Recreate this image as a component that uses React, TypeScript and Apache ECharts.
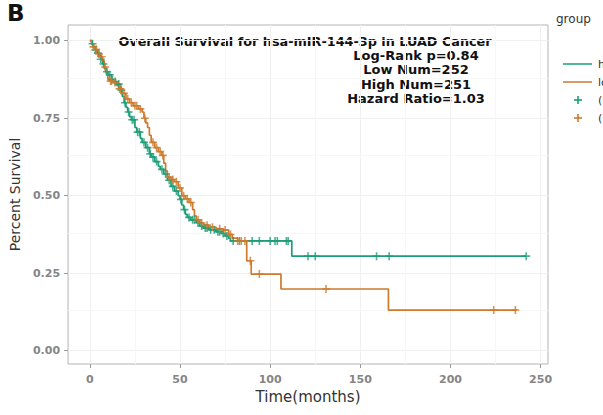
import React, { useEffect, useRef } from "react";
import * as echarts from "echarts";

// Kaplan-Meier step points [time (months), survival]
const highCurve: [number, number][] = [
  [0, 1], [1, 0.99], [2, 0.98], [3, 0.97], [4, 0.96], [5, 0.95], [6, 0.94], [7, 0.925],
  [8, 0.91], [9, 0.9], [10, 0.89], [12, 0.875], [13, 0.868], [15, 0.86], [17, 0.84],
  [18, 0.82], [19, 0.8], [20, 0.785], [21, 0.77], [22, 0.755], [23, 0.745], [25, 0.72],
  [26, 0.705], [28, 0.685], [29, 0.672], [31, 0.655], [33, 0.635], [34, 0.625], [36, 0.61],
  [38, 0.595], [39, 0.585], [41, 0.57], [43, 0.55], [45, 0.53], [47, 0.515], [49, 0.5],
  [50, 0.488], [51, 0.47], [52, 0.455], [53, 0.44], [54, 0.43], [56, 0.422], [59, 0.413],
  [61, 0.402], [63, 0.396], [66, 0.39], [70, 0.384], [73, 0.378], [75, 0.37], [77, 0.362],
  [78, 0.354], [112, 0.305], [242, 0.305],
];
const lowCurve: [number, number][] = [
  [0, 1], [1, 0.99], [2, 0.98], [3, 0.972], [4, 0.965], [5, 0.957], [6, 0.948], [7, 0.935],
  [8, 0.915], [9, 0.895], [10, 0.875], [11, 0.87], [13, 0.865], [15, 0.855], [16, 0.845],
  [18, 0.83], [20, 0.812], [22, 0.8], [24, 0.79], [27, 0.78], [29, 0.77], [30, 0.75],
  [31, 0.735], [32, 0.72], [33, 0.695], [34, 0.672], [36, 0.655], [38, 0.642], [40, 0.63],
  [41, 0.605], [42, 0.58], [43, 0.56], [45, 0.552], [47, 0.545], [49, 0.525], [51, 0.5],
  [53, 0.49], [55, 0.478], [57, 0.455], [58, 0.435], [59, 0.422], [61, 0.412], [63, 0.405],
  [66, 0.398], [70, 0.393], [74, 0.389], [77, 0.375], [79, 0.363], [82, 0.354], [87, 0.29],
  [89.5, 0.247], [106, 0.199], [165.6, 0.131], [237, 0.131],
];
const highCensorTimes: number[] = [
  1.5, 3, 4.5, 6, 7.5, 9.5, 11, 12.5, 14, 16, 17.5, 19.5, 21.5, 23.5, 24.5, 26.5, 27.5, 30,
  32, 33.5, 35, 37, 40, 42, 44, 46, 48, 50.5, 52.5, 55, 57, 58, 60, 62, 64, 65, 67, 69, 71,
  72, 74, 76, 79.5, 83, 90, 94, 100, 102.7, 104, 109, 110, 121, 125, 159, 166, 242,
];
const lowCensorTimes: number[] = [
  2, 3.5, 5, 6.5, 8.5, 11.5, 12, 14, 16.5, 17, 19, 21, 23, 25, 26, 28, 30.5, 35, 37, 39,
  40.5, 44, 46, 48, 50, 52, 54, 56, 60, 62, 65, 68, 72, 75, 78, 82, 84, 86, 89, 94, 131,
  224, 236,
];
const xTicks = [0, 50, 100, 150, 200, 250];
const yTicks = [0, 0.25, 0.5, 0.75, 1];
const xMinor = [25, 75, 125, 175, 225];
const yMinor = [0.125, 0.375, 0.625, 0.875];
const groupNames = ["high", "low", "(high)", "(low)"];
const titleText = "Overall Survival for hsa-mIR-144-3p in LUAD Cancer";
const statLines = ["Log-Rank p=0.84", "Low Num=252", "High Num=251", "Hazard Ratio=1.03"];

const TEAL = "#1B9E77";
const ORANGE = "#CD7A2E";
const PLUS = "path://M4,0H6V4H10V6H6V10H4V6H0V4H4Z";
const FONT = '"DejaVu Sans", sans-serif';

function survivalAt(curve: [number, number][], t: number) {
  let s = curve[0][1];
  for (const [ti, si] of curve) {
    if (ti <= t) s = si;
    else break;
  }
  return s;
}

export default function App() {
  const ref = useRef<HTMLDivElement>(null);
  useEffect(() => {
    document.body.style.margin = "0";
    const chart = echarts.init(ref.current!, undefined, { renderer: "svg" });
    const plus = (x: number, y: number, color: string) => ({
      type: "group",
      children: [
        { type: "line", shape: { x1: x - 4, y1: y, x2: x + 4, y2: y }, style: { stroke: color, lineWidth: 1.6 } },
        { type: "line", shape: { x1: x, y1: y - 4, x2: x, y2: y + 4 }, style: { stroke: color, lineWidth: 1.6 } },
      ],
    });
    const option: any = {
      animation: false,
      backgroundColor: "#fff",
      grid: {
        left: 63, right: 55, top: 25, bottom: 51,
        show: true, borderColor: "#b5b5b5", borderWidth: 1, backgroundColor: "#fff",
      },
      xAxis: {
        type: "value", min: -12.1, max: 254.1,
        axisLine: { show: false, onZero: false },
        axisTick: { show: true, customValues: xTicks, length: 4, lineStyle: { color: "#9a9a9a" } },
        axisLabel: {
          customValues: xTicks, color: "#858585", fontSize: 11, fontWeight: "bold",
          fontFamily: FONT, margin: 10,
        },
        splitLine: { show: true, lineStyle: { color: "#f0f0f0", width: 1 } },
        name: "Time(months)", nameLocation: "middle", nameGap: 24,
        nameTextStyle: { fontSize: 15, color: "#333", fontFamily: FONT },
      },
      yAxis: {
        type: "value", min: -0.043, max: 1.0506,
        axisLine: { show: false, onZero: false },
        axisTick: { show: true, customValues: yTicks, length: 4, lineStyle: { color: "#9a9a9a" } },
        axisLabel: {
          customValues: yTicks, color: "#858585", fontSize: 11, fontWeight: "bold",
          fontFamily: FONT, margin: 8, formatter: (v: number) => v.toFixed(2),
        },
        splitLine: { show: true, lineStyle: { color: "#f0f0f0", width: 1 } },
        name: "Percent Survival", nameLocation: "middle", nameGap: 35,
        nameTextStyle: { fontSize: 14, color: "#333", fontFamily: FONT },
      },
      series: [
        {
          name: "high", type: "line", step: "end", data: highCurve, showSymbol: false,
          lineStyle: { color: TEAL, width: 1.7 }, itemStyle: { color: TEAL }, silent: true, z: 3,
          markLine: {
            silent: true, symbol: "none", z: 1, label: { show: false },
            lineStyle: { color: "#f7f7f7", width: 1, type: "solid" },
            data: [...xMinor.map((v) => ({ xAxis: v })), ...yMinor.map((v) => ({ yAxis: v }))],
          },
        },
        {
          name: "low", type: "line", step: "end", data: lowCurve, showSymbol: false,
          lineStyle: { color: ORANGE, width: 1.7 }, itemStyle: { color: ORANGE }, silent: true, z: 3,
        },
        {
          name: "(high)", type: "scatter", symbol: PLUS, symbolSize: 8, silent: true, z: 4,
          itemStyle: { color: TEAL },
          data: highCensorTimes.map((t) => [t, survivalAt(highCurve, t)]),
        },
        {
          name: "(low)", type: "scatter", symbol: PLUS, symbolSize: 8, silent: true, z: 4,
          itemStyle: { color: ORANGE },
          data: lowCensorTimes.map((t) => [t, survivalAt(lowCurve, t)]),
        },
      ],
      graphic: [
        { type: "text", x: 7, y: 1, style: { text: "B", font: `bold 23px ${FONT}`, fill: "#111" } },
        {
          type: "text", x: 305, y: 41,
          style: { text: titleText, font: `bold 12.8px ${FONT}`, fill: "#111", textAlign: "center", textVerticalAlign: "middle" },
        },
        ...statLines.map((s, i) => ({
          type: "text", x: 416, y: 55.5 + i * 14.3,
          style: { text: s, font: `bold 13px ${FONT}`, fill: "#111", textAlign: "center", textVerticalAlign: "middle" },
        })),
        {
          type: "text", x: 556, y: 19,
          style: { text: "group", font: `12px ${FONT}`, fill: "#333", textVerticalAlign: "middle" },
        },
        { type: "line", shape: { x1: 563, y1: 64, x2: 592, y2: 64 }, style: { stroke: TEAL, lineWidth: 1.5 } },
        { type: "line", shape: { x1: 563, y1: 82, x2: 592, y2: 82 }, style: { stroke: ORANGE, lineWidth: 1.5 } },
        plus(578, 100, TEAL),
        plus(578, 118, ORANGE),
        ...groupNames.map((g, i) => ({
          type: "text", x: 598, y: 64 + i * 18,
          style: { text: g, font: `11px ${FONT}`, fill: "#333", textVerticalAlign: "middle" },
        })),
      ],
    };
    chart.setOption(option);
    return () => chart.dispose();
  }, []);
  return <div ref={ref} style={{ width: 603, height: 415 }} />;
}
